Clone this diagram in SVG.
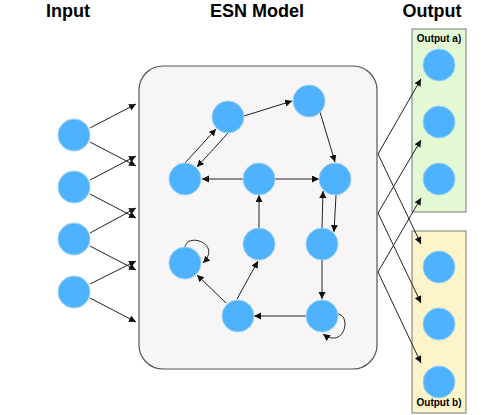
<svg xmlns="http://www.w3.org/2000/svg" width="490" height="415" viewBox="0 0 490 415">
<defs>
<marker id="ah" markerUnits="userSpaceOnUse" markerWidth="8" markerHeight="8" refX="7" refY="3.5" orient="auto">
<path d="M0,0 L7,3.5 L0,7 z" fill="#111"/>
</marker>
<style>
.title{font-family:"Liberation Sans",Arial,sans-serif;font-weight:bold;font-size:18px;fill:#000;text-anchor:middle}
.lbl{font-family:"Liberation Sans",Arial,sans-serif;font-weight:bold;font-size:10px;fill:#000;text-anchor:middle}
.n{fill:#4fb2ff;stroke:#9ad0f5;stroke-width:1}
.e{stroke:#222;stroke-width:1;fill:none;marker-end:url(#ah)}
</style>
</defs>
<rect width="490" height="415" fill="#fff"/>
<text class="title" x="68" y="17">Input</text>
<text class="title" x="257" y="17">ESN Model</text>
<text class="title" x="432" y="17">Output</text>

<rect id="reservoir" x="139" y="66" width="238" height="303" rx="24" ry="24" fill="#f7f5f6" stroke="#555" stroke-width="1.2"/>
<g id="outA"><rect x="412" y="29" width="54" height="183" fill="#e3f9d4" stroke="#777" stroke-width="1"/>
<text class="lbl" x="439" y="42">Output a)</text></g>
<g id="outB"><rect x="412" y="231" width="54" height="182" fill="#fdf5c9" stroke="#777" stroke-width="1"/>
<text class="lbl" x="439" y="406">Output b)</text></g>

<g id="connectors">
<line class="e" x1="90" y1="128" x2="136" y2="104"/>
<line class="e" x1="90" y1="142" x2="136" y2="166"/>
<line class="e" x1="90" y1="180" x2="136" y2="156"/>
<line class="e" x1="90" y1="194" x2="136" y2="218"/>
<line class="e" x1="90" y1="233" x2="136" y2="208"/>
<line class="e" x1="90" y1="246" x2="136" y2="270"/>
<line class="e" x1="90" y1="284" x2="136" y2="261"/>
<line class="e" x1="90" y1="298" x2="136" y2="322"/>

<line class="e" x1="244" y1="116" x2="292" y2="101"/>
<line class="e" x1="320" y1="112" x2="335" y2="162"/>
<line class="e" x1="185" y1="163" x2="216" y2="129"/>
<line class="e" x1="228" y1="133" x2="197" y2="167"/>
<line class="e" x1="243" y1="179" x2="202" y2="179"/>
<line class="e" x1="275" y1="179" x2="319" y2="179"/>
<line class="e" x1="259" y1="228" x2="259" y2="195"/>
<line class="e" x1="322" y1="228" x2="323" y2="191"/>
<line class="e" x1="336" y1="195" x2="334" y2="232"/>
<line class="e" x1="322" y1="260" x2="322" y2="299"/>
<line class="e" x1="306" y1="316" x2="254" y2="316"/>
<line class="e" x1="226" y1="303" x2="197" y2="275"/>
<line class="e" x1="237" y1="299" x2="258" y2="261"/>
<path class="e" d="M185 247 C188 232, 222 244, 203 263"/>
<path class="e" d="M337 314 C352 314, 345 350, 323 334"/>

<line class="e" x1="378" y1="154" x2="421" y2="79"/>
<line class="e" x1="378" y1="154" x2="421" y2="244"/>
<line class="e" x1="378" y1="213" x2="421" y2="140"/>
<line class="e" x1="378" y1="213" x2="421" y2="303"/>
<line class="e" x1="378" y1="272" x2="421" y2="198"/>
<line class="e" x1="378" y1="272" x2="421" y2="363"/>
</g>

<g id="in1"><circle class="n" cx="74" cy="135" r="16"/></g>
<g id="in2"><circle class="n" cx="74" cy="187" r="16"/></g>
<g id="in3"><circle class="n" cx="74" cy="239" r="16"/></g>
<g id="in4"><circle class="n" cx="74" cy="292" r="16"/></g>

<g id="rA"><circle class="n" cx="228" cy="117" r="16"/></g>
<g id="rB"><circle class="n" cx="309" cy="101" r="16"/></g>
<g id="rC"><circle class="n" cx="185" cy="179" r="16"/></g>
<g id="rD"><circle class="n" cx="259" cy="179" r="16"/></g>
<g id="rE"><circle class="n" cx="335" cy="179" r="16"/></g>
<g id="rF"><circle class="n" cx="185" cy="263" r="16"/></g>
<g id="rG"><circle class="n" cx="259" cy="244" r="16"/></g>
<g id="rH"><circle class="n" cx="322" cy="244" r="16"/></g>
<g id="rI"><circle class="n" cx="238" cy="316" r="16"/></g>
<g id="rJ"><circle class="n" cx="322" cy="316" r="16"/></g>

<g id="oa1"><circle class="n" cx="439" cy="65" r="16"/></g>
<g id="oa2"><circle class="n" cx="439" cy="122" r="16"/></g>
<g id="oa3"><circle class="n" cx="439" cy="179" r="16"/></g>
<g id="ob1"><circle class="n" cx="439" cy="267" r="16"/></g>
<g id="ob2"><circle class="n" cx="439" cy="324" r="16"/></g>
<g id="ob3"><circle class="n" cx="439" cy="382" r="16"/></g>
</svg>
